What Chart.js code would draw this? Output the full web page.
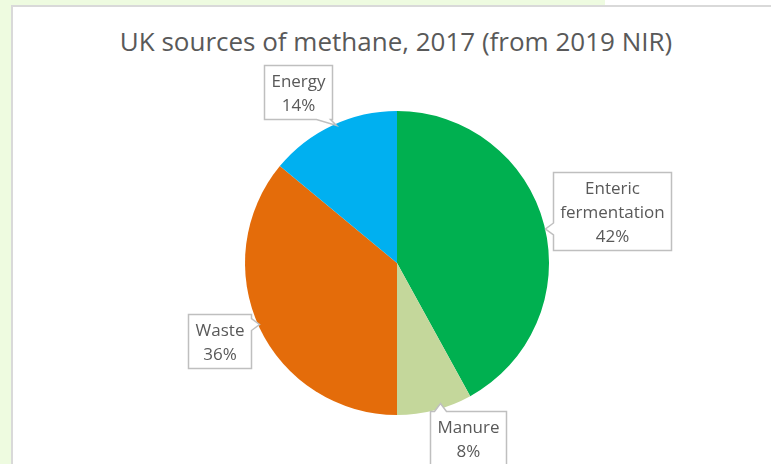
<!DOCTYPE html>
<html><head><meta charset="utf-8">
<script src="https://cdn.jsdelivr.net/npm/chart.js@4"></script>
<style>
html,body{margin:0;padding:0;width:771px;height:464px;overflow:hidden;background:#fff}
#bgTop{position:absolute;left:0;top:0;width:605px;height:6px;background:#eefbe0}
#bgLeft{position:absolute;left:0;top:0;width:11px;height:464px;background:#eefbe0}
#panel{position:absolute;left:11px;top:5px;width:760px;height:459px;border-left:2px solid #d9d9d9;border-top:2px solid #d9d9d9;background:#fff;box-sizing:border-box}
#title{position:absolute;left:0;top:23px;width:792px;text-align:center;font-family:"Open Sans",sans-serif;font-size:26px;color:#595959;white-space:nowrap}
#c{position:absolute;left:0;top:0}
</style></head>
<body>
<div id="bgTop"></div><div id="bgLeft"></div><div id="panel"></div>
<div id="title">UK sources of methane, 2017 (from 2019 NIR)</div>
<canvas id="c" width="771" height="464"></canvas>
<script>
const categories = ['Enteric fermentation', 'Manure', 'Waste', 'Energy'];
const labelLines = [['Enteric', 'fermentation'], ['Manure'], ['Waste'], ['Energy']];
const values = [42, 8, 36, 14];
const colors = ['#00B050', '#C4D79B', '#E46C0A', '#00B0F0'];

// label box placement (style): offset of box centre from pie centre, in radii; pointer side
const calloutStyle = [
  {ox: 1.414, oy: -0.342, side: 'left'},
  {ox: 0.467, oy: 1.150, side: 'top'},
  {ox: -1.171, oy: 0.513, side: 'right'},
  {ox: -0.651, oy: -1.125, side: 'bottom'}
];

const callouts = {
  id: 'callouts',
  afterDraw(chart) {
    const ctx = chart.ctx;
    const meta = chart.getDatasetMeta(0);
    const total = values.reduce((a, b) => a + b, 0);
    ctx.save();
    ctx.font = '17px "Open Sans", sans-serif';
    const lh = 24;
    meta.data.forEach((arc, i) => {
      const st = calloutStyle[i];
      const r = arc.outerRadius;
      const cx = arc.x, cy = arc.y;
      const mid = (arc.startAngle + arc.endAngle) / 2;
      const ax = cx + Math.cos(mid) * r * 0.9, ay = cy + Math.sin(mid) * r * 0.9;
      const lines = labelLines[i].concat([Math.round(values[i] / total * 100) + '%']);
      let w = 0;
      lines.forEach(l => { w = Math.max(w, ctx.measureText(l).width); });
      const bw = Math.round(w + 14), bh = lines.length * lh + 6;
      const bx = Math.round(cx + st.ox * r - bw / 2) + 0.5;
      const by = Math.round(cy + st.oy * r - bh / 2) + 0.5;
      const L = bx, T = by, R = bx + bw, B = by + bh;
      const pw = 6, pl = 8;
      const clamp = (v, a, b) => Math.max(a, Math.min(b, v));
      ctx.beginPath();
      ctx.moveTo(L, T);
      if (st.side === 'top') {
        const px = clamp(ax, L + 10, R - 10);
        ctx.lineTo(px - pw, T); ctx.lineTo(px, T - pl); ctx.lineTo(px + pw, T);
      }
      ctx.lineTo(R, T);
      if (st.side === 'right') {
        const py = clamp(ay, T + 10, B - 10);
        ctx.lineTo(R, py - pw); ctx.lineTo(R + pl, py); ctx.lineTo(R, py + pw);
      }
      ctx.lineTo(R, B);
      if (st.side === 'bottom') {
        const px = clamp(ax, L + 10, R - 4);
        ctx.lineTo(px + 2, B); ctx.lineTo(px + pl, B + 6); ctx.lineTo(px - 12, B);
      }
      ctx.lineTo(L, B);
      if (st.side === 'left') {
        const py = clamp(ay, T + 10, B - 10);
        ctx.lineTo(L, py + pw); ctx.lineTo(L - pl, py); ctx.lineTo(L, py - pw);
      }
      ctx.closePath();
      ctx.fillStyle = '#ffffff';
      ctx.fill();
      ctx.strokeStyle = '#bfbfbf';
      ctx.lineWidth = 1.5;
      ctx.stroke();
      ctx.fillStyle = '#595959';
      ctx.textAlign = 'center';
      ctx.textBaseline = 'middle';
      lines.forEach((l, k) => {
        ctx.fillText(l, bx + bw / 2, by + 5 + lh / 2 + k * lh);
      });
    });
    ctx.restore();
  }
};

new Chart(document.getElementById('c'), {
  type: 'pie',
  data: {
    labels: categories,
    datasets: [{
      data: values,
      backgroundColor: colors,
      borderWidth: 0
    }]
  },
  options: {
    responsive: false,
    animation: false,
    layout: {padding: {left: 245, right: 222, top: 111, bottom: 49}},
    plugins: {legend: {display: false}, tooltip: {enabled: false}, title: {display: false}}
  },
  plugins: [callouts]
});
</script>
</body></html>
